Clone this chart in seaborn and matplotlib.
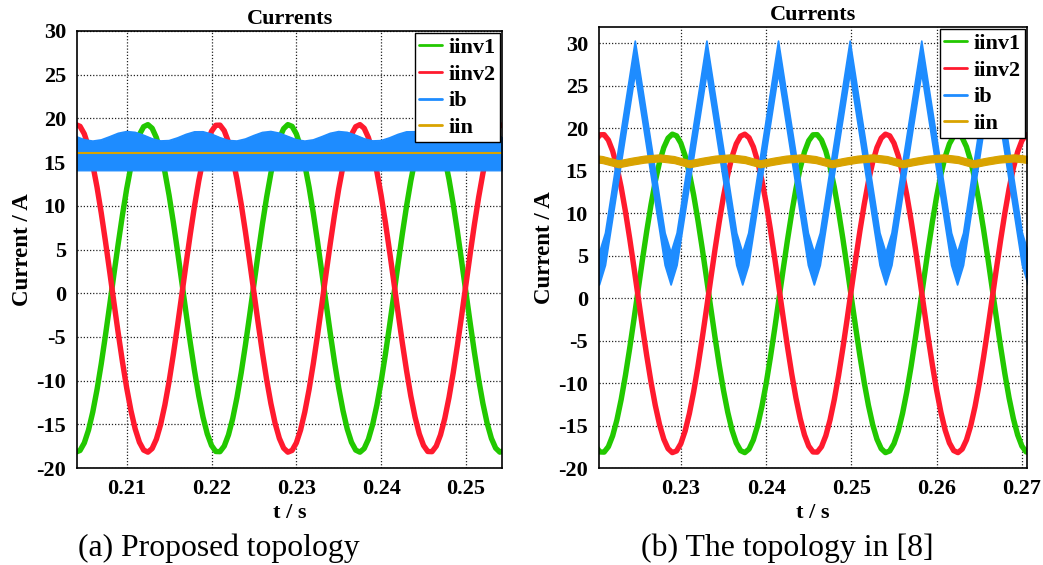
import numpy as np
import pandas as pd
import matplotlib
matplotlib.use("Agg")
import matplotlib.pyplot as plt
import seaborn as sns

# ---------------- data ----------------
# panel (a): proposed topology; inverter currents sampled every 0.5 ms
t_a = np.round(np.linspace(0.204, 0.255, 103), 4)
iinv1_a = [-18.19, -17.99, -17.13, -15.65, -13.59, -11.04, -8.07, -4.79, -1.33, 2.20, 5.67, 8.96, 11.95,
           14.53, 16.63, 18.15, 19.05, 19.29, 18.87, 17.80, 16.12, 13.89, 11.19, 8.10, 4.76, 1.26, -2.27,
           -5.69, -8.89, -11.77, -14.19, -16.10, -17.42, -18.11, -18.13, -17.49, -16.21, -14.34, -11.94,
           -9.10, -5.91, -2.50, 1.02, 4.53, 7.89, 10.99, 13.72, 15.99, 17.71, 18.82, 19.29, 19.09, 18.23,
           16.75, 14.69, 12.14, 9.17, 5.89, 2.43, -1.10, -4.57, -7.86, -10.85, -13.43, -15.53, -17.05,
           -17.95, -18.19, -17.77, -16.70, -15.02, -12.79, -10.09, -7.00, -3.66, -0.16, 3.37, 6.79, 9.99,
           12.87, 15.29, 17.20, 18.52, 19.21, 19.23, 18.59, 17.31, 15.44, 13.04, 10.20, 7.01, 3.60, 0.08,
           -3.43, -6.79, -9.89, -12.62, -14.89, -16.61, -17.72, -18.19, -17.99, -17.13]
iinv2_a = [19.29, 19.09, 18.23, 16.75, 14.69, 12.14, 9.17, 5.89, 2.43, -1.10, -4.57, -7.86, -10.85,
           -13.43, -15.53, -17.05, -17.95, -18.19, -17.77, -16.70, -15.02, -12.79, -10.09, -7.00, -3.66,
           -0.16, 3.37, 6.79, 9.99, 12.87, 15.29, 17.20, 18.52, 19.21, 19.23, 18.59, 17.31, 15.44, 13.04,
           10.20, 7.01, 3.60, 0.08, -3.43, -6.79, -9.89, -12.62, -14.89, -16.61, -17.72, -18.19, -17.99,
           -17.13, -15.65, -13.59, -11.04, -8.07, -4.79, -1.33, 2.20, 5.67, 8.96, 11.95, 14.53, 16.63,
           18.15, 19.05, 19.29, 18.87, 17.80, 16.12, 13.89, 11.19, 8.10, 4.76, 1.26, -2.27, -5.69, -8.89,
           -11.77, -14.19, -16.10, -17.42, -18.11, -18.13, -17.49, -16.21, -14.34, -11.94, -9.10, -5.91,
           -2.50, 1.02, 4.53, 7.89, 10.99, 13.72, 15.99, 17.71, 18.82, 19.29, 19.09, 18.23]
t_a_ib = np.round(np.linspace(0.204, 0.255, 52), 4)
ib_a_upper = [17.93, 17.56, 17.40, 17.54, 17.90, 18.29, 18.49, 18.40, 18.07, 17.67, 17.42, 17.46, 17.77,
              18.17, 18.46, 18.47, 18.20, 17.79, 17.47, 17.41, 17.64, 18.04, 18.39, 18.50, 18.31,
              17.93, 17.56, 17.40, 17.54, 17.90, 18.29, 18.49, 18.40, 18.07, 17.67, 17.42, 17.46, 17.77,
              18.17, 18.46, 18.47, 18.20, 17.79, 17.47, 17.41, 17.64, 18.04, 18.39, 18.50, 18.31,
              17.93, 17.56]
ib_a_lower = 14.05
iin_a = 16.0

# panel (b): topology in [8]
t_b = np.round(np.linspace(0.220, 0.271, 103), 4)
iinv1_b = [-17.42, -18.11, -18.13, -17.49, -16.21, -14.34, -11.94, -9.10, -5.91, -2.50, 1.02, 4.53, 7.89,
           10.99, 13.72, 15.99, 17.71, 18.82, 19.29, 19.09, 18.23, 16.75, 14.69, 12.14, 9.17, 5.89, 2.43,
           -1.10, -4.57, -7.86, -10.85, -13.43, -15.53, -17.05, -17.95, -18.19, -17.77, -16.70, -15.02,
           -12.79, -10.09, -7.00, -3.66, -0.16, 3.37, 6.79, 9.99, 12.87, 15.29, 17.20, 18.52, 19.21, 19.23,
           18.59, 17.31, 15.44, 13.04, 10.20, 7.01, 3.60, 0.08, -3.43, -6.79, -9.89, -12.62, -14.89,
           -16.61, -17.72, -18.19, -17.99, -17.13,
           -15.65, -13.59, -11.04, -8.07, -4.79, -1.33, 2.20, 5.67, 8.96, 11.95, 14.53, 16.63, 18.15,
           19.05, 19.29, 18.87, 17.80, 16.12, 13.89, 11.19, 8.10, 4.76, 1.26, -2.27, -5.69, -8.89, -11.77,
           -14.19, -16.10, -17.42, -18.11, -18.13]
iinv2_b = [18.52, 19.21, 19.23, 18.59, 17.31, 15.44, 13.04, 10.20, 7.01, 3.60, 0.08, -3.43, -6.79, -9.89,
           -12.62, -14.89, -16.61, -17.72, -18.19, -17.99, -17.13, -15.65, -13.59, -11.04, -8.07, -4.79,
           -1.33, 2.20, 5.67, 8.96, 11.95, 14.53, 16.63, 18.15, 19.05, 19.29, 18.87, 17.80, 16.12, 13.89,
           11.19, 8.10, 4.76, 1.26, -2.27, -5.69, -8.89, -11.77, -14.19, -16.10, -17.42, -18.11, -18.13,
           -17.49, -16.21, -14.34, -11.94, -9.10, -5.91, -2.50, 1.02, 4.53, 7.89, 10.99, 13.72, 15.99,
           17.71, 18.82, 19.29, 19.09, 18.23,
           16.75, 14.69, 12.14, 9.17, 5.89, 2.43, -1.10, -4.57, -7.86, -10.85, -13.43, -15.53, -17.05,
           -17.95, -18.19, -17.77, -16.70, -15.02, -12.79, -10.09, -7.00, -3.66, -0.16, 3.37, 6.79, 9.99,
           12.87, 15.29, 17.20, 18.52, 19.21, 19.23]
ib_b_t = [0.2197, 0.2204, 0.2211, 0.2246, 0.2281, 0.2288, 0.2295, 0.2330, 0.2365, 0.2372, 0.2379,
          0.2414, 0.2449, 0.2456, 0.2463, 0.2498, 0.2533, 0.2540, 0.2547, 0.2582, 0.2617, 0.2624,
          0.2631, 0.2665, 0.2700, 0.2707, 0.2714]
ib_b = [5.8, 3.5, 5.8, 28.4, 5.8, 3.5, 5.8, 28.4, 5.8, 3.5, 5.8, 28.4, 5.8, 3.5, 5.8, 28.4, 5.8, 3.5,
        5.8, 28.4, 5.8, 3.5, 5.8, 28.4, 5.8, 3.5, 5.8]
iin_b_t = [0.2191, 0.2208, 0.2227, 0.2242, 0.2257, 0.2275, 0.2292, 0.2310, 0.2325, 0.2340, 0.2358,
           0.2375, 0.2393, 0.2408, 0.2423, 0.2441, 0.2458, 0.2477, 0.2492, 0.2507, 0.2525, 0.2542,
           0.2560, 0.2575, 0.2590, 0.2608, 0.2625, 0.2643, 0.2658, 0.2673, 0.2691, 0.2708]
iin_b = [16.50, 16.30, 15.80, 16.10, 16.35, 16.50, 16.30, 15.80, 16.10, 16.35, 16.50, 16.30, 15.80,
         16.10, 16.35, 16.50, 16.30, 15.80, 16.10, 16.35, 16.50, 16.30, 15.80, 16.10, 16.35, 16.50,
         16.30, 15.80, 16.10, 16.35, 16.50, 16.30]

series_names = ["iinv1", "iinv2", "ib", "iin"]
xticks_a = [0.21, 0.22, 0.23, 0.24, 0.25]
xticks_b = [0.23, 0.24, 0.25, 0.26, 0.27]
yticks = [-20, -15, -10, -5, 0, 5, 10, 15, 20, 25, 30]
captions = ["(a) Proposed topology", "(b) The topology in [8]"]

# ---------------- styling ----------------
sns.set_style("white")
plt.rcParams.update({
    "font.family": ["Liberation Serif", "DejaVu Serif"],
    "font.weight": "bold",
    "axes.unicode_minus": False,
    "text.color": "black",
    "axes.labelcolor": "black",
    "xtick.color": "black",
    "ytick.color": "black",
})
C_G, C_R, C_B, C_Y = "#22c800", "#ff1a2e", "#1e8cff", "#d9a300"

W, H = 1043, 565
fig = plt.figure(figsize=(W / 100, H / 100), dpi=100)
ax_a = fig.add_axes([77 / W, 1 - 468 / H, 425 / W, 437 / H])
ax_b = fig.add_axes([599 / W, 1 - 468 / H, 428 / W, 441 / H])

LW_INV = 3.9
# panel (a)
sns.lineplot(x=t_a, y=iinv1_a, ax=ax_a, color=C_G, lw=LW_INV, label=series_names[0], estimator=None, sort=False)
sns.lineplot(x=t_a, y=iinv2_a, ax=ax_a, color=C_R, lw=LW_INV, label=series_names[1], estimator=None, sort=False)
ax_a.fill_between(t_a_ib, ib_a_lower, ib_a_upper, color=C_B, lw=0.8, zorder=3)
sns.lineplot(x=t_a_ib, y=ib_a_upper, ax=ax_a, color=C_B, lw=1.2, label=series_names[2], estimator=None, sort=False, zorder=3)
sns.lineplot(x=t_a, y=[iin_a] * len(t_a), ax=ax_a, color=C_Y, lw=1.5, label=series_names[3], estimator=None, sort=False, zorder=4)

# panel (b)
HW_B, HW_Y = 1.9, 0.42
sns.lineplot(x=t_b, y=iinv1_b, ax=ax_b, color=C_G, lw=LW_INV, label=series_names[0], estimator=None, sort=False)
sns.lineplot(x=t_b, y=iinv2_b, ax=ax_b, color=C_R, lw=LW_INV, label=series_names[1], estimator=None, sort=False)
ib_arr = np.array(ib_b)
ax_b.fill_between(ib_b_t, ib_arr - HW_B, ib_arr + HW_B, color=C_B, lw=1.2, zorder=3)
sns.lineplot(x=ib_b_t, y=ib_b, ax=ax_b, color=C_B, lw=1.5, label=series_names[2], estimator=None, sort=False, zorder=3)
iin_arr = np.array(iin_b)
ax_b.fill_between(iin_b_t, iin_arr - HW_Y, iin_arr + HW_Y, color=C_Y, lw=0.8, zorder=4)
sns.lineplot(x=iin_b_t, y=iin_b, ax=ax_b, color=C_Y, lw=1.5, label=series_names[3], estimator=None, sort=False, zorder=4)

for ax, xlim, ylim, xt, cap, cx, cs in [
    (ax_a, (0.20414, 0.25425), (-20, 30), xticks_a, captions[0], 219, 22.8),
    (ax_b, (0.2204, 0.2706), (-20, 31.9), xticks_b, captions[1], 787, 22.9),
]:
    ax.set_xlim(*xlim)
    ax.set_ylim(*ylim)
    ax.set_xticks(xt)
    ax.set_xticklabels([f"{v:.2f}" for v in xt])
    ax.set_yticks(yticks)
    ax.set_yticklabels([str(v) for v in yticks])
    ax.grid(True, linestyle=(0, (1, 1.5)), color="#222222", lw=0.9)
    ax.set_axisbelow(True)
    for sp in ax.spines.values():
        sp.set_visible(True)
        sp.set_color("black")
        sp.set_linewidth(1.2)
        sp.set_zorder(6)
    ax.tick_params(direction="out", length=5, width=1, labelsize=16, pad=3,
                   colors="black", labelcolor="black")
    for lab in ax.get_xticklabels() + ax.get_yticklabels():
        lab.set_fontweight("bold")
    ax.set_title("Currents", fontsize=16, fontweight="bold", pad=5, color="black")
    ax.set_xlabel("t / s", fontsize=16, fontweight="bold", labelpad=3, color="black")
    ax.set_ylabel("Current / A", fontsize=16.5, fontweight="bold", labelpad=2, color="black")
    leg = ax.legend(loc="upper right", prop={"family": "Liberation Serif", "weight": "bold", "size": 16},
                    frameon=True, fancybox=False, edgecolor="black", framealpha=1,
                    borderaxespad=0.1, handlelength=1.0, handletextpad=0.3,
                    labelspacing=0.27, borderpad=0.2, labelcolor="black")
    leg.get_frame().set_linewidth(1.0)
    leg.set_zorder(10)
    for ln in leg.get_lines():
        ln.set_linewidth(2.0)
    fig.text(cx / W, 1 - 548 / H, cap, ha="center", va="center", fontsize=cs,
             fontweight="normal", family="Liberation Serif", color="black")

fig.savefig("out.png", dpi=100)
